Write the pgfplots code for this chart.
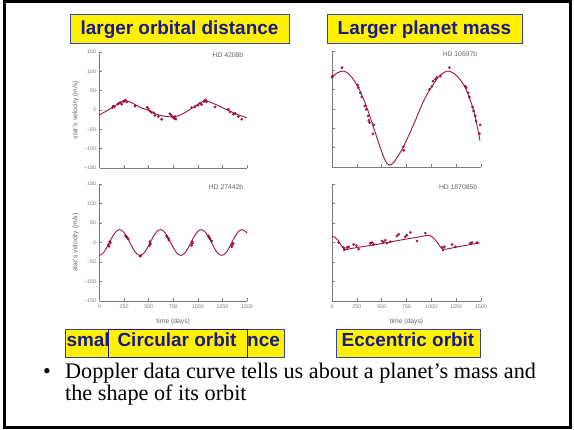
\documentclass[border=0pt]{standalone}
\usepackage{pgfplots}
\pgfplotsset{compat=1.18}
\usepackage{fontspec}
\setmainfont{Liberation Serif}
\newfontfamily\arial{Liberation Sans}
\definecolor{rv}{HTML}{9B143C}
\definecolor{navy}{HTML}{1A1A8C}
\definecolor{boxblue}{HTML}{3344AA}
\definecolor{tickgray}{HTML}{7A7A7A}
\definecolor{labgray}{HTML}{666666}

\pgfplotsset{
 panel/.style={
  scale only axis,
  xmin=0, xmax=1500, ymin=-150, ymax=150,
  axis x line*=bottom, axis y line*=left,
  axis line style={tickgray, line width=0.6bp},
  tick style={tickgray, line width=0.5bp},
  major tick length=2.5bp, tick align=inside,
  xtick={0,250,500,750,1000,1250,1500},
  ytick={-150,-100,-50,0,50,100,150},
  xticklabels={}, yticklabels={},
  ticklabel style={font=\arial\fontsize{5.3}{6}\selectfont, text=tickgray},
  every axis y label/.style={at={(axis description cs:-0.162,0.5)}, rotate=90, anchor=center, font=\arial\fontsize{6.8}{8}\selectfont, text=labgray},
  every axis x label/.style={at={(axis description cs:0.5,-0.178)}, anchor=center, font=\arial\fontsize{6.8}{8}\selectfont, text=labgray},
  clip=false,
 },
 ylab/.style={yticklabels={−150,−100,−50,0,50,100,150}, ylabel={star’s velocity (m/s)}},
 xlab/.style={xticklabels={0,250,500,750,1000,1250,1500}, xlabel={time (days)}},
 curve/.style={rv, line width=0.9bp, smooth, no marks},
 pts/.style={only marks, mark=*, mark size=1.15bp, mark options={draw=rv, fill=rv}},
}
\newcommand{\hd}[1]{\node[anchor=north east, inner sep=0pt, font=\arial\fontsize{6.8}{8}\selectfont, text=labgray] at (rel axis cs:0.975,0.995) {#1};}

\begin{document}
\begin{tikzpicture}
\useasboundingbox (0,0) rectangle (574bp,430bp);
\fill[white] (0,0) rectangle (574bp,430bp);

% ---------- HD 4208b ----------
\begin{axis}[panel, ylab, at={(99.5bp,262bp)}, anchor=south west, width=147.5bp, height=116bp]
\addplot[curve] coordinates {(0,-13) (60,-4) (120,5) (180,15) (230,22) (265,24) (310,21) (370,13) (430,5) (497,-1) (560,-9) (620,-14) (690,-17) (760,-18) (820,-13) (880,-5) (940,5) (1000,15) (1050,22) (1080,24) (1130,20) (1192,13) (1260,5) (1327,-3) (1400,-11) (1460,-17) (1500,-20)};
\addplot[pts] coordinates {(131,6) (151,8) (140,10) (185,15) (200,18) (209,19) (226,15) (240,22) (253,23) (262,26) (277,21) (361,10) (485,7) (497,3) (514,-3) (530,-6) (548,-7) (564,-14) (598,-17) (632,-24) (715,-10) (727,-13) (740,-17) (751,-20) (768,-17) (778,-24) (762,-22) (937,6) (971,8) (1000,12) (1022,17) (1039,14) (1060,22) (1073,23) (1080,26) (1090,21) (1175,8) (1310,2) (1327,-5) (1361,-11) (1380,-9) (1412,-17) (1446,-24)};
\hd{HD 4208b}
\end{axis}

% ---------- HD 10697b ----------
\begin{axis}[panel, at={(332bp,263bp)}, anchor=south west, width=149bp, height=116bp]
\addplot[curve] coordinates {(0,81) (50,93) (117,98) (180,88) (258,59) (310,30) (352,3) (419,-48) (486,-100) (537,-134) (577,-145) (615,-140) (654,-126) (722,-96) (822,-40) (923,21) (1007,59) (1091,88) (1175,98) (1259,85) (1342,55) (1427,-5) (1490,-82)};
\addplot[pts] coordinates {(0,82) (8,86) (101,107) (258,62) (265,55) (284,42) (300,31) (330,8) (343,-1) (363,-18) (370,-29) (378,-35) (419,-41) (413,-64) (719,-98) (722,-107) (982,51) (1007,59) (1017,72) (1040,77) (1055,82) (1091,85) (1181,107) (1342,59) (1350,55) (1370,42) (1383,31) (1415,5) (1425,-5) (1443,-18) (1450,-31) (1491,-41) (1485,-64)};
\hd{HD 10697b}
\end{axis}

% ---------- HD 27442b ----------
\begin{axis}[panel, ylab, xlab, at={(99.5bp,129bp)}, anchor=south west, width=147.5bp, height=117bp]
\addplot[curve] coordinates {(0,-33) (31.6,-28.6) (66.2,-16.5) (100.7,0) (135.3,16.5) (169.9,28.6) (204.5,33) (239.1,28.6) (273.7,16.5) (308.2,0) (342.8,-16.5) (377.4,-28.6) (412,-33) (446.6,-28.6) (481.2,-16.5) (515.7,0) (550.3,16.5) (584.9,28.6) (619.5,33) (654.1,28.6) (688.7,16.5) (723.2,0) (757.8,-16.5) (792.4,-28.6) (827,-33) (861.6,-28.6) (896.2,-16.5) (930.7,0) (965.3,16.5) (999.9,28.6) (1034.5,33) (1069.1,28.6) (1103.7,16.5) (1138.2,0) (1172.8,-16.5) (1207.4,-28.6) (1242,-33) (1276.6,-28.6) (1311.2,-16.5) (1345.7,0) (1380.3,16.5) (1414.9,28.6) (1449.5,33) (1484.1,28.6) (1500,24)};
\addplot[pts] coordinates {(90,-6) (98,-10) (105,2) (110,-1) (265,17) (270,15) (280,13) (293,9) (412,-35) (420,-34) (507,-8) (512,2) (520,-3) (683,17) (693,13) (700,10) (706,6) (937,-8) (942,2) (945,-2) (1107,17) (1115,13) (1124,10) (1141,4) (1344,-11) (1350,-6) (1361,-2)};
\hd{HD 27442b}
\end{axis}

% ---------- HD 187085b ----------
\begin{axis}[panel, xlab, at={(332bp,129bp)}, anchor=south west, width=149bp, height=117bp]
\addplot[curve] coordinates {(0,16) (30,13) (60,6) (90,-6) (115,-14) (140,-18) (180,-16) (300,-11) (450,-5) (600,2) (750,9) (870,14) (950,18) (985,18) (1010,14) (1035,8) (1065,-2) (1095,-12) (1120,-17) (1150,-17) (1250,-12) (1400,-5) (1490,-1)};
\addplot[pts] coordinates {(67,0) (117,-13) (124,-19) (151,-13) (168,-11) (218,-5) (245,-8) (268,-17) (386,-2) (403,0) (419,-5) (503,4) (520,1) (537,6) (554,-2) (587,2) (654,17) (671,21) (738,15) (755,19) (789,26) (856,4) (940,24) (1108,-13) (1118,-19) (1131,-11) (1208,-5) (1242,-11) (1393,-2) (1409,0) (1460,0)};
\hd{HD 187085b}
\end{axis}

% ---------- yellow labels ----------
\tikzset{ybox/.style={draw=boxblue, fill=yellow, line width=0.8bp},
         ytxt/.style={anchor=base, inner sep=0pt, text=navy, font=\arial\bfseries\fontsize{19}{22}\selectfont}}
\draw[ybox] (70bp,416bp) rectangle (289bp,387bp);
\node[ytxt] at (179.5bp,395.7bp) {larger orbital distance};
\draw[ybox] (327bp,416bp) rectangle (522bp,387bp);
\node[ytxt] at (424.5bp,395.7bp) {Larger planet mass};

\draw[ybox] (65bp,101bp) rectangle (284bp,73bp);
\node[ytxt, anchor=base west] at (66.3bp,83.3bp) {smal};
\node[ytxt, anchor=base east] at (280bp,83.3bp) {nce};
\draw[ybox, draw=navy] (108bp,101bp) rectangle (247bp,73bp);
\node[ytxt] at (177bp,83.3bp) {Circular orbit};
\draw[ybox] (336bp,101bp) rectangle (480bp,73bp);
\node[ytxt] at (408bp,83.3bp) {Eccentric orbit};

% ---------- bullet text ----------
\node[anchor=base, inner sep=0pt, font=\fontsize{22.3}{24}\selectfont] at (47bp,51bp) {•};
\node[anchor=base west, inner sep=0pt, font=\fontsize{22.3}{24}\selectfont] at (65bp,51bp) {Doppler data curve tells us about a planet’s mass and};
\node[anchor=base west, inner sep=0pt, font=\fontsize{22.3}{24}\selectfont] at (65bp,29.5bp) {the shape of its orbit};

% ---------- frame ----------
\draw[black, line width=3bp] (4.5bp,428.5bp) rectangle (570bp,2.5bp);
\end{tikzpicture}
\end{document}
